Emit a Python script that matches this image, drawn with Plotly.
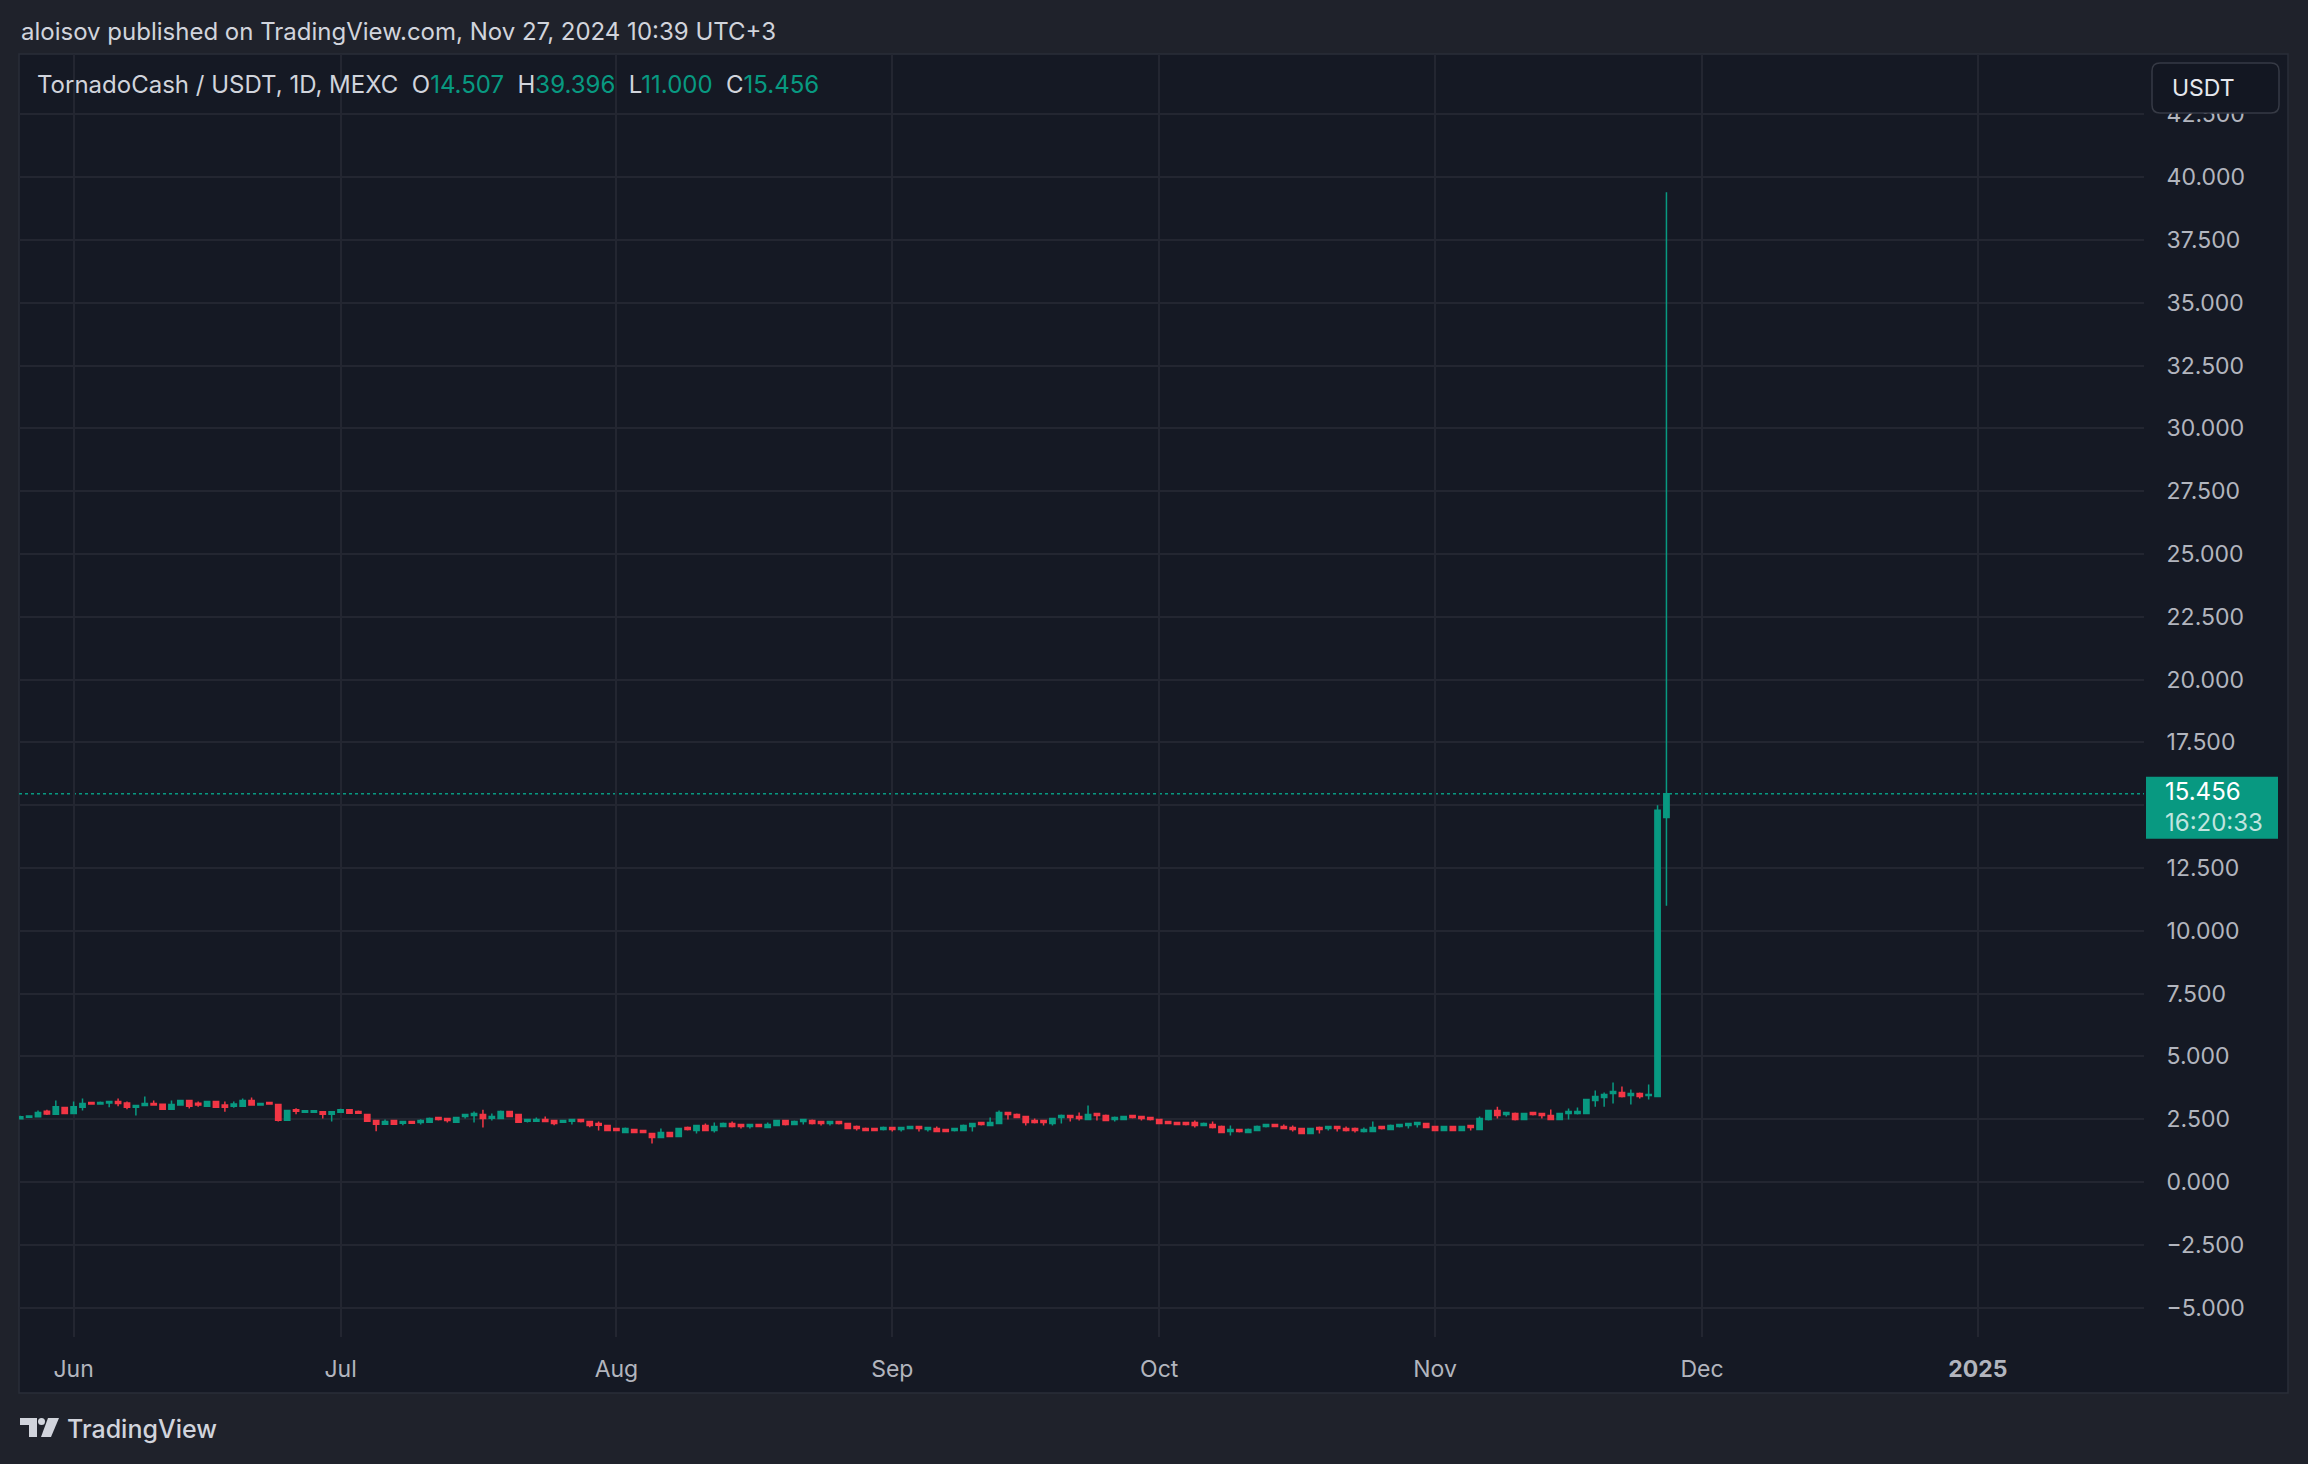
import pandas as pd
import plotly.graph_objects as go

# TornadoCash / USDT daily candles, MEXC (26 May -> 27 Nov 2024)
dates = pd.date_range("2024-05-26", "2024-11-27", freq="D")

opens = [
    # May 26-31
    2.52, 2.58, 2.60, 2.82, 2.70, 2.97,
    # Jun
    2.73, 2.98, 3.16, 3.10, 3.14, 3.20, 3.14, 2.98, 3.04, 3.12,
    3.09, 2.90, 3.06, 3.24, 3.13, 3.02, 3.20, 3.06, 3.02, 3.02,
    3.24, 3.06, 3.16, 3.08, 2.46, 2.88, 2.78, 2.78, 2.80, 2.70,
    # Jul
    2.78, 2.88, 2.81, 2.69, 2.45, 2.30, 2.45, 2.34, 2.41, 2.37,
    2.38, 2.57, 2.53, 2.38, 2.61, 2.65, 2.69, 2.54, 2.53, 2.81,
    2.69, 2.42, 2.42, 2.49, 2.45, 2.38, 2.42, 2.49, 2.41, 2.33, 2.25,
    # Aug
    2.13, 1.97, 2.09, 2.05, 1.93, 1.77, 1.97, 1.81, 2.17, 2.05,
    2.25, 2.05, 2.21, 2.33, 2.29, 2.21, 2.29, 2.17, 2.25, 2.45,
    2.29, 2.41, 2.45, 2.41, 2.33, 2.41, 2.33, 2.21, 2.13, 2.13, 2.09,
    # Sep
    2.17, 2.09, 2.13, 2.21, 2.09, 2.13, 2.09, 2.05, 2.05, 2.21,
    2.37, 2.25, 2.33, 2.77, 2.69, 2.61, 2.45, 2.45, 2.33, 2.57,
    2.65, 2.61, 2.49, 2.73, 2.65, 2.49, 2.49, 2.65, 2.61, 2.57,
    # Oct
    2.49, 2.41, 2.37, 2.37, 2.37, 2.25, 2.29, 2.21, 2.01, 2.09,
    1.97, 2.05, 2.21, 2.29, 2.21, 2.17, 2.13, 1.93, 2.17, 2.13,
    2.21, 2.13, 2.13, 2.01, 2.01, 2.21, 2.09, 2.21, 2.25, 2.29, 2.33,
    # Nov 1-27
    2.21, 2.05, 2.21, 2.05, 2.25, 2.09, 2.49, 2.85, 2.69, 2.73,
    2.49, 2.77, 2.73, 2.65, 2.49, 2.73, 2.73, 2.73, 3.24, 3.36,
    3.52, 3.56, 3.44, 3.52, 3.44, 3.40, 14.507,
]

highs = [
    2.64, 2.64, 2.85, 2.88, 3.24, 3.00,
    3.20, 3.32, 3.17, 3.20, 3.21, 3.32, 3.20, 3.05, 3.40, 3.24,
    3.12, 3.24, 3.25, 3.25, 3.20, 3.21, 3.21, 3.20, 3.20, 3.32,
    3.36, 3.13, 3.17, 3.09, 2.86, 2.94, 2.85, 2.85, 2.81, 2.81,
    2.92, 2.89, 2.85, 2.70, 2.46, 2.49, 2.46, 2.42, 2.42, 2.50,
    2.57, 2.58, 2.54, 2.58, 2.70, 2.81, 2.88, 2.73, 2.85, 2.82,
    2.70, 2.50, 2.57, 2.61, 2.46, 2.46, 2.50, 2.50, 2.42, 2.41, 2.26,
    2.14, 2.17, 2.10, 2.06, 1.94, 2.13, 1.98, 2.14, 2.21, 2.26,
    2.33, 2.37, 2.37, 2.41, 2.30, 2.30, 2.30, 2.37, 2.46, 2.46,
    2.45, 2.50, 2.49, 2.42, 2.42, 2.42, 2.34, 2.25, 2.17, 2.14, 2.21,
    2.18, 2.18, 2.22, 2.22, 2.18, 2.21, 2.10, 2.14, 2.29, 2.34,
    2.38, 2.57, 2.85, 2.78, 2.73, 2.62, 2.53, 2.46, 2.54, 2.69,
    2.66, 2.77, 3.04, 2.74, 2.69, 2.61, 2.62, 2.66, 2.62, 2.58,
    2.50, 2.42, 2.38, 2.38, 2.45, 2.37, 2.41, 2.25, 2.25, 2.10,
    2.13, 2.25, 2.30, 2.30, 2.29, 2.25, 2.14, 2.14, 2.21, 2.22,
    2.22, 2.21, 2.17, 2.17, 2.41, 2.22, 2.29, 2.30, 2.34, 2.38, 2.34,
    2.22, 2.22, 2.22, 2.22, 2.26, 2.61, 2.86, 3.00, 2.78, 2.77,
    2.74, 2.78, 2.74, 2.89, 2.74, 2.93, 2.97, 3.29, 3.64, 3.56,
    3.96, 3.80, 3.68, 3.56, 3.88, 15.00, 39.396,
]

lows = [
    2.49, 2.57, 2.57, 2.67, 2.69, 2.72,
    2.72, 2.85, 3.09, 3.09, 2.98, 3.02, 2.90, 2.65, 3.03, 3.05,
    2.89, 2.89, 3.05, 2.93, 3.00, 3.01, 2.97, 2.80, 2.96, 3.01,
    3.05, 3.05, 3.09, 2.41, 2.45, 2.70, 2.77, 2.77, 2.53, 2.41,
    2.77, 2.73, 2.73, 2.41, 2.02, 2.29, 2.29, 2.26, 2.33, 2.29,
    2.37, 2.45, 2.37, 2.37, 2.53, 2.37, 2.17, 2.45, 2.52, 2.60,
    2.37, 2.37, 2.41, 2.40, 2.26, 2.37, 2.29, 2.37, 2.18, 2.05, 2.04,
    2.04, 1.96, 1.96, 1.96, 1.53, 1.76, 1.80, 1.80, 2.05, 1.93,
    2.04, 1.97, 2.20, 2.17, 2.13, 2.13, 2.20, 2.16, 2.24, 2.25,
    2.28, 2.29, 2.29, 2.25, 2.25, 2.29, 2.12, 2.05, 2.04, 2.04, 2.05,
    2.01, 2.01, 2.12, 2.01, 2.01, 2.00, 2.00, 2.01, 2.04, 2.01,
    2.25, 2.24, 2.32, 2.49, 2.56, 2.25, 2.33, 2.25, 2.25, 2.33,
    2.41, 2.45, 2.48, 2.45, 2.44, 2.41, 2.48, 2.53, 2.45, 2.45,
    2.32, 2.32, 2.28, 2.25, 2.17, 2.24, 2.13, 1.96, 1.85, 1.97,
    1.96, 2.04, 2.17, 2.20, 2.12, 2.01, 1.92, 1.92, 1.93, 2.05,
    2.01, 2.01, 1.97, 1.97, 2.00, 2.09, 2.08, 2.17, 2.13, 2.17, 2.16,
    2.04, 2.04, 2.04, 2.04, 2.05, 2.08, 2.45, 2.53, 2.61, 2.45,
    2.48, 2.65, 2.53, 2.48, 2.48, 2.49, 2.69, 2.72, 3.00, 3.00,
    3.12, 3.36, 3.08, 3.32, 3.28, 3.38, 11.000,
]

closes = [
    2.60, 2.63, 2.77, 2.71, 3.00, 2.73,
    3.00, 3.12, 3.10, 3.16, 3.20, 3.12, 2.98, 3.04, 3.12, 3.06,
    2.90, 3.08, 3.24, 3.02, 3.06, 3.20, 2.98, 2.98, 3.10, 3.24,
    3.06, 3.12, 3.10, 2.46, 2.85, 2.82, 2.84, 2.84, 2.70, 2.80,
    2.88, 2.74, 2.74, 2.42, 2.30, 2.41, 2.30, 2.41, 2.34, 2.45,
    2.53, 2.49, 2.45, 2.57, 2.69, 2.73, 2.53, 2.61, 2.81, 2.61,
    2.38, 2.49, 2.49, 2.41, 2.33, 2.45, 2.49, 2.41, 2.25, 2.26, 2.05,
    2.05, 2.13, 1.97, 1.97, 1.77, 1.97, 1.81, 2.13, 2.09, 2.25,
    2.05, 2.21, 2.33, 2.21, 2.21, 2.29, 2.21, 2.29, 2.45, 2.29,
    2.41, 2.49, 2.33, 2.33, 2.41, 2.33, 2.13, 2.13, 2.05, 2.05, 2.17,
    2.09, 2.17, 2.21, 2.13, 2.17, 2.01, 2.01, 2.13, 2.25, 2.33,
    2.29, 2.37, 2.77, 2.69, 2.57, 2.37, 2.37, 2.37, 2.53, 2.65,
    2.57, 2.53, 2.69, 2.65, 2.45, 2.57, 2.61, 2.57, 2.53, 2.49,
    2.33, 2.33, 2.29, 2.29, 2.25, 2.33, 2.17, 1.97, 2.09, 2.01,
    2.09, 2.21, 2.29, 2.21, 2.13, 2.09, 1.93, 2.13, 2.09, 2.21,
    2.13, 2.05, 2.05, 2.09, 2.17, 2.13, 2.25, 2.29, 2.33, 2.37, 2.17,
    2.05, 2.21, 2.05, 2.21, 2.17, 2.53, 2.85, 2.65, 2.77, 2.49,
    2.73, 2.69, 2.65, 2.49, 2.73, 2.81, 2.81, 3.28, 3.40, 3.48,
    3.60, 3.40, 3.52, 3.40, 3.48, 14.80, 15.456,
]

price_ticks = [-5, -2.5, 0, 2.5, 5, 7.5, 10, 12.5, 15, 17.5, 20, 22.5,
               25, 27.5, 30, 32.5, 35, 37.5, 40, 42.5]
month_ticks = ["2024-06-01", "2024-07-01", "2024-08-01", "2024-09-01",
               "2024-10-01", "2024-11-01", "2024-12-01", "2025-01-01"]
month_labels = ["Jun", "Jul", "Aug", "Sep", "Oct", "Nov", "Dec", "<b>2025</b>"]

GREEN = "#089981"
RED = "#f23645"
TEXT = "#d1d4dc"
AXIS_TEXT = "#b2b5be"
GRID = "#232631"
PANEL = "#151924"
OUTER = "#1f222b"
FONT = "Inter"

W, H = 2308, 1464
L, R, T, B = 19, 2144, 54, 1337


def px(x):
    return (x - L) / (R - L)


def py(y):
    return (B - y) / (B - T)


fig = go.Figure()
fig.add_trace(go.Candlestick(
    x=dates, open=opens, high=highs, low=lows, close=closes,
    increasing=dict(line=dict(color=GREEN, width=1.5), fillcolor=GREEN),
    decreasing=dict(line=dict(color=RED, width=1.5), fillcolor=RED),
    whiskerwidth=0, hoverinfo="skip", showlegend=False,
))

last_c = closes[-1]
ppu = (B - T) / (44.90 + 6.17)  # pixels per price unit

# ticks text like TradingView (3 decimals, true minus sign);
# the label under the last-price box is hidden, as on TradingView
tick_text = []
for v in price_ticks:
    if abs(v - last_c) < 1.0:
        tick_text.append("")
    else:
        tick_text.append(("−" if v < 0 else "") + f"{abs(v):.3f}")

shapes = [
    # chart panel
    dict(type="rect", xref="paper", yref="paper", x0=px(19), x1=px(2288),
         y0=py(1393), y1=py(54), fillcolor=PANEL,
         line=dict(color="#2a2e39", width=1.5), layer="below"),
    # last price dotted line
    dict(type="line", xref="paper", yref="y", x0=0, x1=1, y0=last_c, y1=last_c,
         line=dict(color=GREEN, width=1.5, dash="dot"), layer="below"),
    # last price label
    dict(type="rect", xref="paper", yref="y", x0=px(2146), x1=px(2278),
         y0=last_c - 45 / ppu, y1=last_c + 17 / ppu, fillcolor=GREEN,
         line=dict(width=0), layer="above"),
]

# USDT button (rounded rect)
bx0, bx1, by0, by1, rr = 2152, 2279, 63, 113, 8
path = (f"M {px(bx0 + rr)},{py(by0)} L {px(bx1 - rr)},{py(by0)} "
        f"Q {px(bx1)},{py(by0)} {px(bx1)},{py(by0 + rr)} "
        f"L {px(bx1)},{py(by1 - rr)} Q {px(bx1)},{py(by1)} {px(bx1 - rr)},{py(by1)} "
        f"L {px(bx0 + rr)},{py(by1)} Q {px(bx0)},{py(by1)} {px(bx0)},{py(by1 - rr)} "
        f"L {px(bx0)},{py(by0 + rr)} Q {px(bx0)},{py(by0)} {px(bx0 + rr)},{py(by0)} Z")
shapes.append(dict(type="path", xref="paper", yref="paper", path=path,
                   fillcolor="#131722", line=dict(color="#363a45", width=1.5),
                   layer="above"))

# TradingView logo
logo = dict(xref="paper", yref="paper", fillcolor=TEXT, line=dict(width=0),
            layer="above")
shapes += [
    dict(type="rect", x0=px(20), x1=px(37), y0=py(1425), y1=py(1418), **logo),
    dict(type="rect", x0=px(29), x1=px(37), y0=py(1437), y1=py(1418), **logo),
    dict(type="circle", x0=px(38), x1=px(45), y0=py(1425), y1=py(1418), **logo),
    dict(type="path", path=f"M {px(48)},{py(1418)} L {px(59)},{py(1418)} "
         f"L {px(51)},{py(1437)} L {px(41)},{py(1437)} Z", **logo),
]

sp = "&nbsp;&nbsp;"
legend = (f"TornadoCash / USDT, 1D, MEXC{sp}"
          f"O<span style='color:{GREEN}'>{opens[-1]:.3f}</span>{sp}"
          f"H<span style='color:{GREEN}'>{highs[-1]:.3f}</span>{sp}"
          f"L<span style='color:{GREEN}'>{lows[-1]:.3f}</span>{sp}"
          f"C<span style='color:{GREEN}'>{closes[-1]:.3f}</span>")

price_label = (f"{last_c:.3f}<br>"
               f"<span style='color:rgba(255,255,255,0.75)'>16:20:33</span>")

annotations = [
    dict(text="aloisov published on TradingView.com, Nov 27, 2024 10:39 UTC+3",
         x=px(19), y=py(31), font=dict(size=24, color=TEXT)),
    dict(text=legend, x=px(35), y=py(85), font=dict(size=24, color=TEXT)),
    dict(text="USDT", x=px(2170), y=py(88), font=dict(size=23, color="#e6e8ee")),
    dict(text=price_label, x=px(2163), y=py(807), align="left",
         font=dict(size=24, color="#ffffff")),
    dict(text="TradingView", x=px(65), y=py(1429),
         font=dict(size=25, color=TEXT, weight=500)),
]
for a in annotations:
    a.update(xref="paper", yref="paper", xanchor="left", yanchor="middle",
             showarrow=False)

fig.update_layout(
    width=W, height=H,
    margin=dict(l=L, r=W - R, t=T, b=H - B),
    paper_bgcolor=OUTER, plot_bgcolor=PANEL,
    font=dict(family=FONT, color=AXIS_TEXT, size=23),
    boxgap=0.15,
    showlegend=False,
    shapes=shapes,
    annotations=annotations,
    xaxis=dict(
        type="date",
        range=["2024-05-25 20:44", "2025-01-19 16:00"],
        tickvals=month_ticks, ticktext=month_labels,
        showgrid=True, gridcolor=GRID, gridwidth=1.5,
        zeroline=False, showline=False,
        ticks="outside", ticklen=11, tickcolor="rgba(0,0,0,0)",
        tickfont=dict(size=23, color=AXIS_TEXT),
        rangeslider=dict(visible=False),
        fixedrange=True,
    ),
    yaxis=dict(
        side="right",
        range=[-6.17, 44.90],
        tickvals=price_ticks, ticktext=tick_text,
        showgrid=True, gridcolor=GRID, gridwidth=1.5,
        zeroline=False, showline=False,
        ticks="outside", ticklen=17, tickcolor="rgba(0,0,0,0)",
        tickfont=dict(size=23, color=AXIS_TEXT),
        fixedrange=True,
    ),
)

fig.write_html(
    "out.html",
    config={"displayModeBar": False},
    post_script="document.body.style.margin='0';"
                "document.body.style.background='#1f222b';",
)
